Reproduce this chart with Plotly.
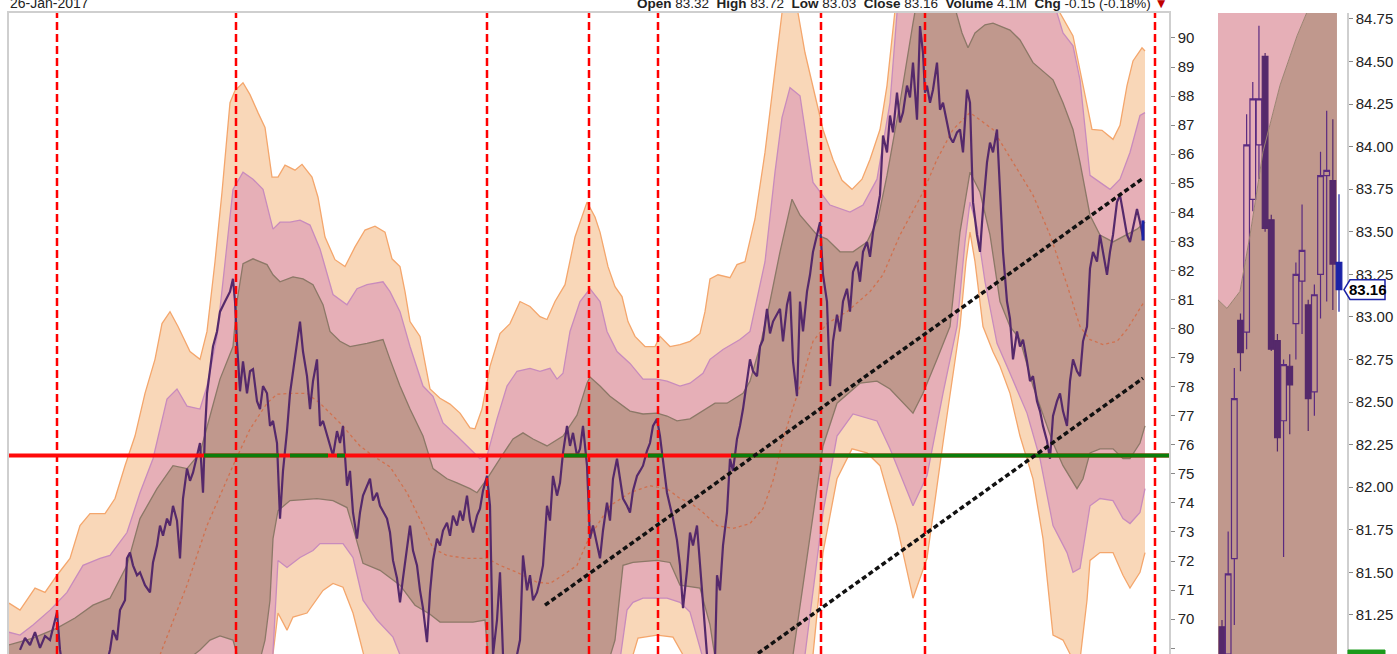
import plotly.graph_objects as go

# ---------------- data (bar index, price) ----------------
price_bar = [20,25,30,35,40,45,50,55,57,60,63,105,110,113,117,120,125,127,130,133,137,140,145,150,153,157,160,163,167,170,173,177,180,183,187,190,193,197,200,203,205,207,210,213,217,220,225,230,233,235,237,240,243,247,250,253,257,260,263,267,270,273,277,280,283,287,290,293,297,300,303,307,310,313,317,320,323,327,330,333,337,340,343,347,350,353,357,360,363,367,370,373,377,380,383,387,390,393,397,400,403,407,410,413,417,420,423,427,430,433,437,440,443,447,450,453,457,460,463,467,470,473,477,480,483,487,490,493,497,500,503,507,515,520,523,527,530,533,537,540,543,547,550,553,557,560,563,567,570,573,577,580,583,587,590,593,597,600,603,607,610,613,617,620,623,627,630,633,637,640,643,647,650,653,657,660,663,667,670,673,677,680,683,687,690,693,697,700,703,707,710,715,717,720,723,727,730,733,737,740,743,747,750,753,757,760,763,767,770,773,777,780,783,787,790,793,797,800,803,807,810,813,817,820,823,827,830,833,837,840,843,847,850,853,857,860,863,867,870,873,877,880,883,887,890,893,897,900,903,907,910,913,917,920,923,925,927,930,933,937,940,943,947,950,953,957,960,963,967,970,972,973,977,980,983,987,990,993,997,1000,1003,1007,1010,1013,1017,1020,1023,1027,1030,1033,1037,1040,1043,1047,1050,1053,1057,1060,1063,1067,1070,1073,1077,1080,1083,1087,1090,1093,1097,1100,1103,1107,1110,1113,1117,1120,1123,1127,1130,1133,1137,1140,1143]
price = [68.94,69.35,69.11,69.55,69.01,69.42,69.28,69.97,70.24,68.94,68.25,68.25,68.94,69.62,69.28,70.31,70.65,72.09,72.29,71.85,71.51,71.61,71.17,70.92,71.95,72.53,73.22,72.87,73.46,73.22,73.90,73.39,72.09,74.15,75.18,74.76,75.04,75.62,76.06,74.35,76.47,77.77,78.53,79.38,79.90,80.58,80.93,81.27,81.71,80.93,79.49,77.84,78.87,77.77,78.53,78.60,77.50,77.23,78.02,77.77,76.65,76.82,76.06,73.46,75.10,76.47,77.77,78.53,79.38,80.24,79.21,78.36,77.23,78.19,78.94,76.65,76.82,76.30,75.96,75.62,76.47,76.06,76.65,74.59,75.10,73.67,72.77,73.67,74.25,74.59,74.83,74.08,74.35,73.90,73.73,73.46,72.98,72.02,71.41,70.58,71.41,72.53,73.22,72.36,71.85,70.99,70.38,69.21,70.92,72.02,72.77,72.53,73.05,73.32,72.87,73.56,73.22,73.73,73.39,74.25,73.39,72.98,73.56,73.80,74.42,74.93,73.90,68.77,69.97,71.61,68.77,68.25,68.43,69.28,72.19,70.99,71.51,70.65,70.92,71.34,71.85,73.90,73.39,74.93,74.25,74.69,75.72,76.65,75.96,76.41,75.62,75.86,76.65,75.28,72.77,73.22,72.53,72.09,73.05,74.01,73.39,74.83,75.52,74.76,74.15,73.90,73.67,74.42,74.93,75.10,75.28,75.79,76.06,76.65,76.89,76.30,75.45,74.35,73.90,73.46,72.71,71.85,70.38,71.68,72.98,72.53,73.22,71.85,70.65,68.77,68.32,68.60,71.51,70.99,72.53,73.67,75.52,75.10,76.20,76.65,77.23,78.19,78.94,78.53,78.36,79.38,79.62,80.68,79.83,80.24,80.48,80.68,79.56,80.82,81.27,78.87,77.67,80.93,79.90,81.27,81.85,82.64,83.22,83.66,81.85,80.93,78.02,79.56,80.48,79.90,80.93,81.37,80.58,81.95,82.30,81.61,82.64,82.98,82.47,83.32,84.01,84.59,86.64,86.06,87.33,86.75,88.12,87.09,87.43,88.36,87.95,89.15,87.19,90.41,89.49,88.12,88.36,87.77,88.22,89.15,87.53,87.77,87.09,86.58,86.40,86.75,86.85,86.06,88.22,87.77,85.48,84.35,83.22,82.64,84.11,85.72,86.40,86.06,86.85,84.93,82.64,80.93,80.34,78.94,79.90,79.38,79.62,78.87,78.19,78.36,77.50,77.16,76.65,76.13,75.52,76.99,77.50,77.77,77.16,76.65,78.19,78.94,78.53,78.36,79.56,80.07,82.06,82.64,82.30,83.22,82.64,81.85,82.64,83.22,84.35,84.59,84.01,83.22,82.98,83.42,84.11,83.66,83.16]

# envelope bands: outer (orange), middle (pink), inner (brown)
uo_bar = [9,20,35,45,57,70,80,90,105,115,125,135,145,155,162,170,178,190,200,207,215,222,230,235,243,250,258,265,272,278,285,295,302,312,318,325,335,345,355,365,375,385,392,400,405,410,420,430,440,450,460,470,475,482,490,500,510,520,530,540,547,555,565,575,587,595,600,608,615,622,628,635,645,655,660,670,680,690,700,705,710,718,730,737,745,755,765,775,782,788,798,805,817,823,833,842,852,862,870,880,887,893,900,950,1000,1040,1060,1073,1083,1092,1102,1113,1120,1127,1133,1142,1145]
uo = [70.55,70.31,71.07,70.92,71.51,72.09,73.22,73.63,73.63,74.15,75.28,76.30,77.77,78.94,80.17,80.58,80.07,79.21,78.94,79.90,82.30,84.69,87.77,88.19,88.46,88.05,87.43,86.92,85.21,85.21,85.62,85.45,85.65,85.21,84.52,83.15,82.37,82.13,82.81,83.39,83.52,83.32,82.40,82.13,81.27,80.24,79.73,77.92,77.60,77.40,77.09,76.58,76.55,77.23,78.70,79.83,80.17,80.93,80.76,80.41,80.31,80.93,81.51,83.15,84.35,83.84,83.32,82.13,81.44,81.10,80.24,79.73,79.38,79.38,79.73,79.38,79.45,79.56,79.83,80.58,81.71,81.85,81.75,82.20,82.30,83.77,86.06,88.91,90.86,92.06,90.86,89.49,87.77,86.85,85.82,85.10,84.79,85.14,85.82,86.85,88.36,90.27,92.57,93.94,93.60,92.57,90.86,90.07,88.36,86.85,86.82,86.51,86.99,88.36,89.21,89.66,89.55]
um_bar = [9,20,33,50,67,83,100,110,127,140,153,167,177,187,200,207,217,227,233,243,253,263,273,280,290,300,310,320,333,347,357,367,383,390,400,410,423,433,443,457,470,480,487,497,507,517,530,540,550,557,563,570,580,590,600,607,617,630,643,657,667,680,690,703,710,723,740,750,765,775,782,790,800,813,830,850,863,877,890,897,905,1000,1050,1057,1063,1073,1080,1090,1100,1110,1120,1130,1140,1145]
um = [69.55,69.45,69.80,70.31,70.92,71.85,72.09,72.19,72.98,74.35,75.52,77.57,77.92,77.33,77.23,78.02,79.73,82.98,84.79,85.38,85.14,84.79,83.42,83.66,83.66,83.73,83.56,82.74,81.17,80.82,81.37,81.51,81.61,81.27,80.58,79.38,78.02,77.67,76.75,76.30,75.86,75.52,75.62,76.89,78.02,78.53,78.63,78.53,78.63,78.26,78.46,79.90,80.93,81.37,80.93,79.90,79.21,78.80,78.26,78.26,78.19,78.02,78.12,78.46,78.94,79.28,79.62,79.90,82.30,85.38,87.26,88.29,88.01,85.03,84.25,84.01,84.25,85.14,87.77,90.86,92.57,92.57,91.54,90.86,90.17,89.73,88.56,85.27,85.03,84.79,85.14,86.06,87.33,87.43]
ui_bar = [9,33,57,75,93,110,127,140,157,173,187,200,210,220,233,237,243,253,267,273,280,293,303,313,323,330,340,350,367,383,390,400,410,423,433,447,457,470,477,487,500,513,523,533,547,563,577,587,590,600,610,623,630,643,657,667,677,690,703,715,727,743,750,760,770,780,792,800,817,827,840,853,867,878,887,900,913,920,940,955,962,968,975,985,993,1010,1020,1033,1053,1063,1073,1080,1090,1100,1113,1127,1137,1145]
ui = [69.11,69.35,69.69,70.04,70.48,70.72,71.85,73.46,74.49,75.28,75.18,75.72,76.99,78.26,79.38,80.93,82.23,82.40,82.20,81.85,81.61,81.78,81.71,81.51,80.82,79.90,79.56,79.38,79.49,79.62,78.94,78.02,77.23,76.30,75.18,74.83,74.69,74.49,74.35,74.83,75.52,76.20,76.41,76.20,75.96,76.30,77.02,78.12,78.33,78.02,77.67,77.33,77.16,77.06,77.09,76.99,76.82,76.89,77.16,77.43,77.43,77.77,78.19,79.38,80.93,82.64,84.45,83.90,83.22,83.08,82.64,82.64,82.98,83.77,85.27,87.77,90.51,91.88,92.57,91.03,90.17,89.66,90.17,90.45,90.51,90.27,89.93,89.15,88.56,87.77,86.85,85.72,83.90,83.22,82.98,83.22,83.42,83.66]
li_bar = [9,150,200,210,220,233,240,255,265,270,273,278,290,317,333,347,353,363,380,400,415,430,440,457,473,485,490,520,600,615,623,633,657,670,680,700,710,717,760,785,793,808,823,837,860,877,890,913,923,937,950,960,970,980,990,1000,1010,1020,1033,1047,1053,1063,1077,1083,1090,1100,1113,1123,1130,1140,1145]
li = [67.23,67.57,68.94,69.28,69.42,69.28,68.43,67.91,69.28,70.65,72.77,73.73,74.08,74.15,74.08,73.84,73.15,71.92,71.68,71.17,70.48,70.17,69.90,69.90,69.90,69.97,67.91,67.23,67.57,69.28,71.85,71.95,72.02,71.95,71.17,71.07,69.80,68.25,67.57,67.91,68.77,72.36,75.96,77.43,78.12,78.19,77.92,77.09,77.77,78.94,80.07,83.32,85.38,84.69,83.22,80.93,80.07,79.62,78.02,76.65,76.06,75.28,74.49,74.83,75.72,75.86,75.86,75.52,75.52,76.06,76.65]
lm_bar = [9,260,270,273,278,287,300,313,320,343,353,363,377,393,400,420,600,620,627,633,643,667,680,690,702,720,790,805,823,837,853,877,890,913,927,943,957,965,970,977,985,997,1010,1027,1040,1053,1067,1073,1080,1090,1100,1113,1123,1130,1140,1145]
lm = [66.54,67.23,67.91,68.87,72.02,71.78,72.12,72.36,72.60,72.60,72.12,70.65,69.97,69.38,68.77,67.57,67.23,68.60,70.31,70.58,70.72,70.72,70.58,70.24,68.77,67.23,67.23,68.77,73.67,76.30,77.06,76.82,75.86,73.90,74.93,77.77,80.07,82.98,84.35,83.49,81.61,79.49,78.46,77.09,75.52,73.22,72.29,71.61,71.75,73.90,74.15,74.08,73.46,73.29,73.67,74.49]
lo_bar = [9,270,273,278,287,293,307,323,333,343,353,360,365,400,600,630,633,638,657,673,683,700,800,813,823,837,852,867,880,897,913,927,943,960,966,970,975,983,993,1000,1010,1020,1033,1043,1053,1063,1073,1080,1087,1090,1100,1113,1123,1130,1140,1145]
lo = [65.86,67.23,68.80,70.21,69.62,70.07,70.21,70.99,71.23,71.10,70.21,69.28,68.60,66.54,66.54,68.25,68.77,69.35,69.45,69.38,68.77,66.88,66.54,68.77,72.29,74.83,75.86,75.72,75.28,73.22,70.72,72.09,76.06,80.07,82.30,83.32,82.30,80.07,79.20,78.70,77.77,76.30,74.83,72.77,69.45,69.28,68.60,68.60,70.65,72.02,72.29,72.29,71.51,71.07,71.61,72.29]
ma_bar = [160,187,207,233,250,267,277,293,307,320,340,360,373,390,407,423,433,447,467,487,500,517,537,550,563,577,587,597,610,630,650,667,680,690,703,717,733,750,763,773,783,800,813,827,847,870,883,900,923,937,953,970,993,1013,1033,1050,1067,1080,1090,1103,1117,1127,1135,1143]
ma = [68.77,71.17,73.22,75.28,76.54,77.43,77.74,77.77,77.77,77.43,76.75,75.96,75.62,75.24,74.35,73.22,72.43,72.19,72.09,72.09,71.85,71.61,71.27,71.23,71.51,71.85,72.64,73.22,73.90,74.35,74.59,74.49,74.15,74.01,73.67,73.22,73.12,73.29,73.80,74.76,76.20,78.02,79.56,80.17,80.58,81.27,81.85,83.22,84.69,85.82,86.85,87.43,86.85,85.72,84.59,83.22,81.51,80.07,79.62,79.45,79.56,79.97,80.41,80.86]

event_bars = [57, 236, 487, 589, 658, 821, 925, 1155]
level_price = 75.63
level_green_spans = [(204, 279), (290, 328), (337, 345), (564, 587), (648, 663), (731, 1169)]
trend_upper = ([545, 1143], [70.48, 85.17])
trend_lower = ([745, 1143], [68.50, 78.29])

# zoomed panel: last 20 sessions
cdl_idx = list(range(20))
cdl_open = [81.18, 81.02, 81.58, 82.98, 82.91, 83.69, 84.01, 84.53, 83.57, 82.86, 82.39, 82.71, 82.96, 83.21, 83.07, 82.56, 83.25, 83.83, 83.80, 83.32]
cdl_high = [81.22, 81.74, 82.70, 83.02, 84.19, 84.38, 84.71, 84.55, 83.60, 82.90, 82.75, 82.78, 83.32, 83.66, 83.10, 83.19, 83.97, 84.21, 84.16, 83.72]
cdl_low = [80.95, 80.90, 81.19, 82.68, 82.81, 83.62, 83.81, 83.50, 82.80, 82.21, 81.59, 82.31, 82.75, 82.90, 82.33, 82.42, 82.99, 83.09, 83.04, 83.03]
cdl_close = [80.98, 81.49, 82.52, 82.79, 84.01, 84.28, 84.28, 83.52, 82.81, 82.29, 82.72, 82.60, 83.25, 83.39, 82.52, 83.13, 83.83, 83.86, 83.31, 83.16]
zoom_band_idx = [-0.65, 0.81, 2.92, 4.55, 6.66, 9.42, 12.18, 13.80, 15.91, 18.67]
zoom_band = [83.10, 83.05, 83.15, 83.48, 83.97, 84.36, 84.65, 84.79, 85.00, 85.20]
volume_text = "4.1M"
date_text = "26-Jan-2017"

for a, b in [(price_bar, price), (uo_bar, uo), (um_bar, um), (ui_bar, ui), (li_bar, li),
             (lm_bar, lm), (lo_bar, lo), (ma_bar, ma)]:
    assert len(a) == len(b), (len(a), len(b))

# ---------------- styling ----------------
W, H = 1397, 654
PEACH, PINK, BROWN = "#f9d7b8", "#e6afb7", "#c0988d"
PEACH_L, PINK_L, BROWN_L = "#f4a66c", "#c88bbd", "#8c7867"
PURPLE = "#55296b"
BLUE = "#1b22a6"
X_MAIN = [9, 1169]
Y_MAIN = [68.80, 90.86]
X_SIDE = [-0.65, 20.3]
Y_SIDE = [81.02, 84.785]
FONT = "Liberation Sans Narrow, Arial Narrow, Liberation Sans, Arial"


def px(v):
    return v / W


def py(v):
    return 1 - v / H


fig = go.Figure()


def band(ubar, uval, lbar, lval, fill):
    fig.add_trace(go.Scatter(x=ubar + lbar[::-1], y=uval + lval[::-1], fill="toself",
                             fillcolor=fill, mode="lines", line=dict(width=0),
                             hoverinfo="skip", showlegend=False))


def edge(bar, val, color):
    fig.add_trace(go.Scatter(x=bar, y=val, mode="lines", line=dict(color=color, width=1.3),
                             hoverinfo="skip", showlegend=False))


band(uo_bar, uo, lo_bar, lo, PEACH)
band(um_bar, um, lm_bar, lm, PINK)
band(ui_bar, ui, li_bar, li, BROWN)
edge(uo_bar, uo, PEACH_L)
edge(lo_bar, lo, PEACH_L)
edge(um_bar, um, PINK_L)
edge(lm_bar, lm, PINK_L)
edge(ui_bar, ui, BROWN_L)
edge(li_bar, li, BROWN_L)

fig.add_trace(go.Scatter(x=ma_bar, y=ma, mode="lines",
                         line=dict(color="#d0714f", width=1.3, dash="dot"),
                         hoverinfo="skip", showlegend=False))
fig.add_trace(go.Scatter(x=price_bar, y=price, mode="lines",
                         line=dict(color=PURPLE, width=2.2),
                         hoverinfo="skip", showlegend=False))
fig.add_trace(go.Scatter(x=[price_bar[-1], price_bar[-1]], y=[cdl_low[-1], cdl_high[-1]],
                         mode="lines", line=dict(color=BLUE, width=3),
                         hoverinfo="skip", showlegend=False))

# event verticals
vx, vy = [], []
for b in event_bars:
    vx += [b, b, None]
    vy += [Y_MAIN[0], Y_MAIN[1], None]
fig.add_trace(go.Scatter(x=vx, y=vy, mode="lines",
                         line=dict(color="#ff0000", width=2.5, dash="8px,4px"),
                         hoverinfo="skip", showlegend=False))

# horizontal level line
fig.add_trace(go.Scatter(x=X_MAIN, y=[level_price, level_price], mode="lines",
                         line=dict(color="#ff0a0a", width=4), hoverinfo="skip", showlegend=False))
gx, gy = [], []
for a, b in level_green_spans:
    gx += [a, b, None]
    gy += [level_price, level_price, None]
fig.add_trace(go.Scatter(x=gx, y=gy, mode="lines", line=dict(color="#0a7d0a", width=4),
                         hoverinfo="skip", showlegend=False))

# trend channel
for tx, ty in [trend_upper, trend_lower]:
    fig.add_trace(go.Scatter(x=tx, y=ty, mode="lines",
                             line=dict(color="#111111", width=3.5, dash="5px,3px"),
                             hoverinfo="skip", showlegend=False))

# ---------------- zoom panel ----------------
def poly(xs, ys):
    pts = " L ".join(f"{x},{y}" for x, y in zip(xs, ys))
    return "M " + pts + " Z"


fig.add_shape(type="path", xref="x2", yref="y2", layer="below",
              path=poly(zoom_band_idx + [zoom_band_idx[-1], zoom_band_idx[0]],
                        zoom_band + [80.5, 80.5]),
              fillcolor=BROWN, line=dict(width=0))
fig.add_shape(type="path", xref="x2", yref="y2", layer="below",
              path=poly(zoom_band_idx + [zoom_band_idx[-1], zoom_band_idx[0]],
                        zoom_band + [85.5, 85.5]),
              fillcolor=PINK, line=dict(width=0))
fig.add_trace(go.Scatter(x=zoom_band_idx, y=zoom_band, mode="lines",
                         line=dict(color="#9a8270", width=1), xaxis="x2", yaxis="y2",
                         hoverinfo="skip", showlegend=False))
fig.add_trace(go.Candlestick(
    x=cdl_idx[:-1], open=cdl_open[:-1], high=cdl_high[:-1], low=cdl_low[:-1], close=cdl_close[:-1],
    xaxis="x2", yaxis="y2",
    increasing=dict(line=dict(color="#5a2a80", width=1.2), fillcolor="rgba(0,0,0,0)"),
    decreasing=dict(line=dict(color="#55296b", width=1.2), fillcolor="#55296b"),
    hoverinfo="skip", showlegend=False))
fig.add_trace(go.Candlestick(
    x=cdl_idx[-1:], open=cdl_open[-1:], high=cdl_high[-1:], low=cdl_low[-1:], close=cdl_close[-1:],
    xaxis="x2", yaxis="y2",
    increasing=dict(line=dict(color=BLUE, width=1.2), fillcolor=BLUE),
    decreasing=dict(line=dict(color=BLUE, width=1.2), fillcolor=BLUE),
    hoverinfo="skip", showlegend=False))

# last price tag
last = cdl_close[-1]
half = 0.058
x_tip, x_box, x_end = px(1344), px(1350), px(1385)
fig.add_shape(type="path", xref="paper", yref="y2",
              path=f"M {x_tip},{last} L {x_box},{last + half} L {x_end},{last + half} "
                   f"L {x_end},{last - half} L {x_box},{last - half} Z",
              fillcolor="white", line=dict(color=BLUE, width=1.5))
fig.add_annotation(x=(x_box + x_end) / 2, y=last, xref="paper", yref="y2",
                   xanchor="center", yanchor="middle",
                   text=f"<b>{last:.2f}</b>", showarrow=False,
                   font=dict(family=FONT, size=15, color="#000"))
# clipped green tag at the bottom
fig.add_shape(type="rect", xref="paper", yref="paper", x0=px(1348), x1=px(1385),
              y0=py(670), y1=py(650), fillcolor="#1c9a1c", line=dict(color="#1c9a1c", width=1))

# header texts (partly cut off at top as in the original)
prev_close = cdl_close[-2]
chg = last - prev_close
pct = chg / prev_close * 100
header = (f"<b>Open</b> {cdl_open[-1]:.2f}  <b>High</b> {cdl_high[-1]:.2f}  "
          f"<b>Low</b> {cdl_low[-1]:.2f}  <b>Close</b> {last:.2f}  "
          f"<b>Volume</b> {volume_text}  <b>Chg</b> {chg:.2f} ({pct:.2f}%) "
          f"<span style='color:#c00000'>▼</span>")
fig.add_annotation(x=px(1170), y=1, xref="paper", yref="paper", xanchor="right",
                   yanchor="middle", text=header, showarrow=False,
                   font=dict(family="Liberation Sans, Arial", size=13.5, color="#222"))
fig.add_annotation(x=px(8), y=1, xref="paper", yref="paper", xanchor="left",
                   yanchor="middle", text=date_text, showarrow=False,
                   font=dict(family="Liberation Sans, Arial", size=14, color="#222"))

fig.update_layout(
    width=W, height=H, margin=dict(l=0, r=0, t=0, b=0),
    paper_bgcolor="white", plot_bgcolor="white", showlegend=False,
    hovermode=False, boxgap=0.08, boxgroupgap=0,
    xaxis=dict(domain=[px(9), px(1169)], range=X_MAIN, showticklabels=False, ticks="",
               showgrid=False, zeroline=False, showline=True, linecolor="#cfcfcf",
               linewidth=2, mirror=True),
    yaxis=dict(domain=[0, py(10)], range=Y_MAIN, side="right",
               tickvals=list(range(69, 91)), showgrid=False, zeroline=False,
               showline=True, linecolor="#cfcfcf", linewidth=1.5, mirror=True,
               ticks="outside", ticklen=4, tickcolor="#888",
               tickfont=dict(family=FONT, size=15, color="#222")),
    xaxis2=dict(domain=[px(1218), px(1347)], range=X_SIDE, anchor="y2",
                showticklabels=False, ticks="", showgrid=False, zeroline=False,
                showline=False, rangeslider=dict(visible=False)),
    yaxis2=dict(domain=[0, py(10)], range=Y_SIDE, anchor="x2", side="right",
                tickvals=[81.25 + 0.25 * i for i in range(15)],
                ticktext=[f"{81.25 + 0.25 * i:.2f}" for i in range(15)],
                showgrid=False, zeroline=False, showline=True, linecolor="#cfcfcf",
                linewidth=1.5, ticks="outside", ticklen=4, tickcolor="#888",
                tickfont=dict(family=FONT, size=15, color="#222")),
)

fig.write_html("out.html", config={"displayModeBar": False},
               post_script="document.body.style.margin='0px';document.body.style.overflow='hidden';")
